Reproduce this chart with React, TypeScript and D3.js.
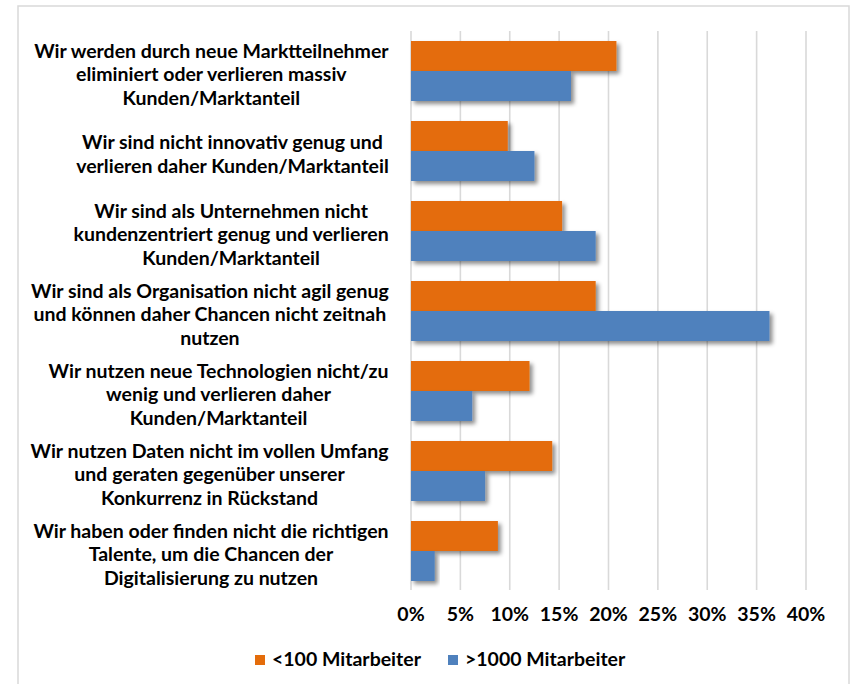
import React from "react";
import * as d3 from "d3";

const categories: string[][] = [
  ["Wir werden durch neue Marktteilnehmer", "eliminiert oder verlieren massiv", "Kunden/Marktanteil"],
  ["Wir sind nicht innovativ genug und", "verlieren daher Kunden/Marktanteil"],
  ["Wir sind als Unternehmen nicht", "kundenzentriert genug und verlieren", "Kunden/Marktanteil"],
  ["Wir sind als Organisation nicht agil genug", "und können daher Chancen nicht zeitnah", "nutzen"],
  ["Wir nutzen neue Technologien nicht/zu", "wenig und verlieren daher", "Kunden/Marktanteil"],
  ["Wir nutzen Daten nicht im vollen Umfang", "und geraten gegenüber unserer", "Konkurrenz in Rückstand"],
  ["Wir haben oder finden nicht die richtigen", "Talente, um die Chancen der", "Digitalisierung zu nutzen"],
];
const seriesNames = ["<100 Mitarbeiter", ">1000 Mitarbeiter"];
const seriesColors = ["#E46C0A", "#4F81BD"];
const smallCompanies = [0.208, 0.098, 0.153, 0.187, 0.12, 0.143, 0.088];
const largeCompanies = [0.162, 0.125, 0.187, 0.363, 0.062, 0.075, 0.024];
const tickValues = [0, 0.05, 0.1, 0.15, 0.2, 0.25, 0.3, 0.35, 0.4];

const FONT = "Lato, 'Open Sans', sans-serif";
const FS = 19.5;

let ctx: CanvasRenderingContext2D | null = null;
function measure(t: string): number {
  if (!ctx) {
    const c = document.createElement("canvas");
    ctx = c.getContext("2d");
  }
  if (!ctx) return t.length * FS * 0.5;
  ctx.font = `bold ${FS}px ${FONT}`;
  return ctx.measureText(t).width;
}

export default function App() {
  const W = 850, H = 684;
  const x = d3.scaleLinear().domain([0, 0.4]).range([411, 806]);
  const ids = categories.map((_, i) => String(i));
  const y = d3.scaleBand().domain(ids).range([31, 591]).paddingInner(0.25).paddingOuter(0.125);
  const ySub = d3.scaleBand().domain(["0", "1"]).range([0, y.bandwidth()]);
  const series = [smallCompanies, largeCompanies];
  const fmt = d3.format(".0%");
  const labelRight = 389;
  const lineH = 23.5;

  return (
    <svg width={W} height={H} style={{ position: "absolute", left: 0, top: 0, background: "#fff" }}
      fontFamily={FONT} fontWeight="bold">
      <defs>
        <filter id="sh" x="-10%" y="-30%" width="130%" height="180%">
          <feDropShadow dx="3" dy="3" stdDeviation="2" floodColor="#000" floodOpacity="0.45" />
        </filter>
      </defs>
      <rect x={0} y={0} width={W} height={H} fill="#fff" />
      <rect x={18} y={6} width={831} height={700} fill="none" stroke="#D9D9D9" strokeWidth={1.5} />
      {tickValues.map((t) => (
        <line key={"g" + t} x1={x(t)} x2={x(t)} y1={31} y2={590} stroke="#D9D9D9" strokeWidth={1.6} />
      ))}
      {series.map((vals, s) =>
        vals.map((v, i) => (
          <rect key={`b${s}-${i}`} x={x(0)} y={(y(String(i)) ?? 0) + (ySub(String(s)) ?? 0)}
            width={x(v) - x(0)} height={ySub.bandwidth()} fill={seriesColors[s]} filter="url(#sh)" />
        ))
      )}
      {tickValues.map((t) => (
        <text key={"t" + t} x={x(t)} y={621} textAnchor="middle" fontSize={FS} fill="#000">{fmt(t)}</text>
      ))}
      {categories.map((lines, i) => {
        const maxW = Math.max(...lines.map(measure));
        const cx = labelRight - maxW / 2;
        const c = (y(String(i)) ?? 0) + y.bandwidth() / 2;
        const n = lines.length;
        return (
          <g key={"c" + i}>
            {lines.map((l, j) => (
              <text key={j} x={cx} y={c + 10 + (j - (n - 1) / 2) * lineH} textAnchor="middle" fontSize={FS} fill="#000">{l}</text>
            ))}
          </g>
        );
      })}
      {seriesNames.map((name, s) => {
        const lx = s === 0 ? 255 : 448;
        return (
          <g key={"l" + s}>
            <rect x={lx} y={655} width={10} height={10} fill={seriesColors[s]} />
            <text x={lx + 17} y={666} fontSize={FS} fill="#000">{name}</text>
          </g>
        );
      })}
    </svg>
  );
}
